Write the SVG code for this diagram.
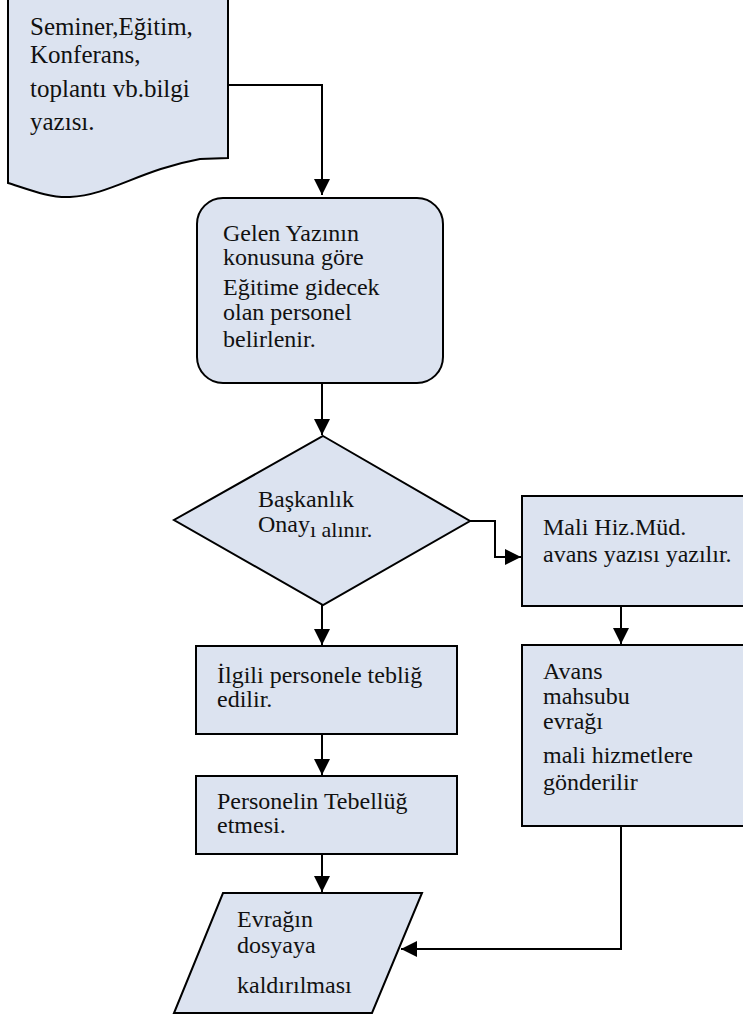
<svg xmlns="http://www.w3.org/2000/svg" width="743" height="1016" viewBox="0 0 743 1016">
<style>
.s{fill:#dce3f0;stroke:#000;stroke-width:2}
.t{font-family:"Liberation Serif","Times New Roman",serif;font-size:24px;fill:#111}
.b{font-size:25px}
.c{fill:none;stroke:#000;stroke-width:2}
</style>
<defs>
<marker id="ah" viewBox="0 0 10 10" refX="10" refY="5" markerWidth="16" markerHeight="16" orient="auto" markerUnits="userSpaceOnUse">
<path d="M0,0 L10,5 L0,10 Z" fill="#000"/>
</marker>
</defs>
<g id="connectors">
<path class="c" d="M228,85 H322 V195" marker-end="url(#ah)"/>
<path class="c" d="M322,383 V435" marker-end="url(#ah)"/>
<path class="c" d="M470,521 H495 V557 H521" marker-end="url(#ah)"/>
<path class="c" d="M621,606 V644" marker-end="url(#ah)"/>
<path class="c" d="M322,605 V645" marker-end="url(#ah)"/>
<path class="c" d="M322,734 V775" marker-end="url(#ah)"/>
<path class="c" d="M322,854 V892" marker-end="url(#ah)"/>
<path class="c" d="M621,826 V949 H401" marker-end="url(#ah)"/>
</g>
<g id="n1">
<path class="s" d="M8,-2 H228 V158 L200,159 C140,170 110,195 70,197 C50,198 30,190 8,183 Z"/>
<text class="t b" x="30" y="35">Seminer,Eğitim,</text>
<text class="t b" x="30" y="63">Konferans,</text>
<text class="t b" x="30" y="97">toplantı vb.bilgi</text>
<text class="t b" x="30" y="130">yazısı.</text>
</g>
<g id="n2">
<rect class="s" x="197" y="198" width="246" height="185" rx="26"/>
<text class="t" x="223" y="241">Gelen Yazının</text>
<text class="t" x="223" y="265">konusuna göre</text>
<text class="t" x="223" y="295">Eğitime gidecek</text>
<text class="t" x="223" y="320">olan personel</text>
<text class="t" x="223" y="347">belirlenir.</text>
</g>
<g id="n3">
<polygon class="s" points="323,436 470,521 323,605 174,520"/>
<text class="t" x="258" y="507">Başkanlık</text>
<text class="t" x="258" y="532">Onay<tspan dy="5" style="font-size:22px">ı alınır.</tspan></text>
</g>
<g id="n4">
<rect class="s" x="522" y="496" width="230" height="110"/>
<text class="t" x="543" y="535">Mali Hiz.Müd.</text>
<text class="t" x="543" y="562">avans yazısı yazılır.</text>
</g>
<g id="n5">
<rect class="s" x="522" y="645" width="230" height="181"/>
<text class="t" x="543" y="679">Avans</text>
<text class="t" x="543" y="704">mahsubu</text>
<text class="t" x="543" y="729">evrağı</text>
<text class="t" x="543" y="763">mali hizmetlere</text>
<text class="t" x="543" y="790">gönderilir</text>
</g>
<g id="n6">
<rect class="s" x="196" y="646" width="261" height="88"/>
<text class="t" x="217" y="683">İlgili personele tebliğ</text>
<text class="t" x="217" y="707">edilir.</text>
</g>
<g id="n7">
<rect class="s" x="196" y="776" width="261" height="78"/>
<text class="t" x="217" y="809">Personelin Tebellüğ</text>
<text class="t" x="217" y="833">etmesi.</text>
</g>
<g id="n8">
<polygon class="s" points="223,893 422,893 372,1013 174,1013"/>
<text class="t" x="237" y="927">Evrağın</text>
<text class="t" x="237" y="953">dosyaya</text>
<text class="t" x="237" y="993">kaldırılması</text>
</g>
</svg>
